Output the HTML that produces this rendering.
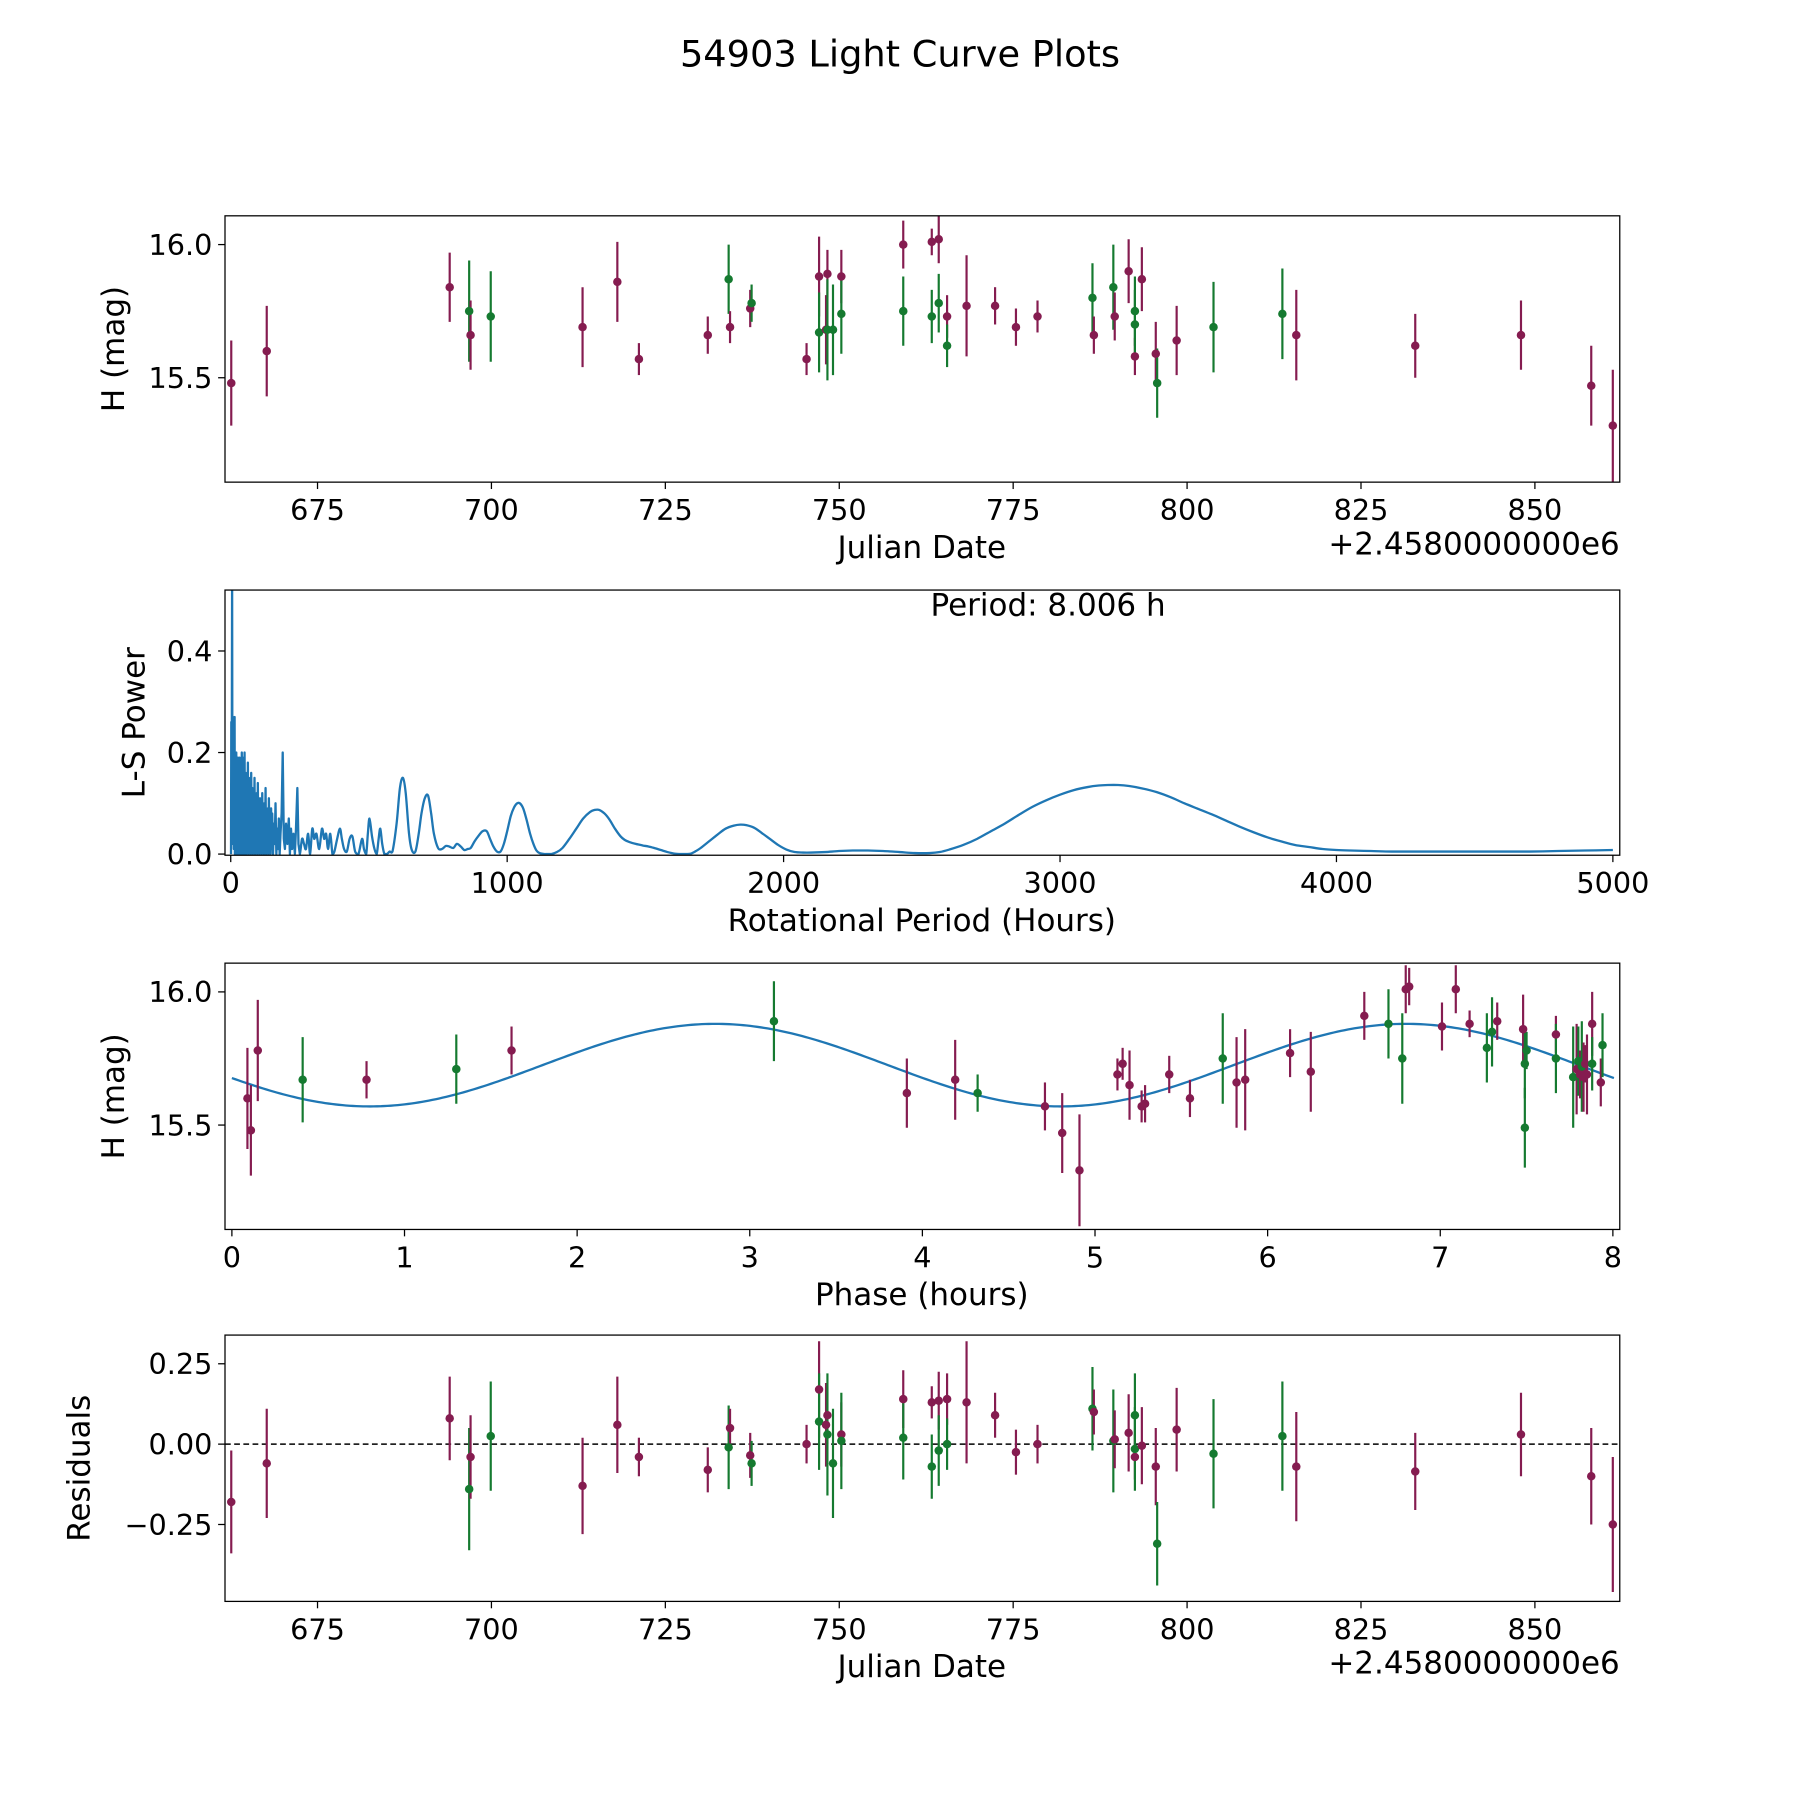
<!DOCTYPE html>
<html><head><meta charset="utf-8"><style>
html,body{margin:0;padding:0;background:#fff}
svg{display:block}
text{font-family:"DejaVu Sans","Liberation Sans",sans-serif;fill:#000}
</style></head><body>
<svg id="fig" xmlns="http://www.w3.org/2000/svg" width="1800" height="1800" viewBox="0 0 1568 1568">
<text x="784" y="58" font-size="32" text-anchor="middle">54903 Light Curve Plots</text>
</svg>
<script>
// ---- Data: panel 1 (magnitude vs Julian date, offset 2458000) ----
const lcJD   = [662.6,667.7,694.0,696.8,697.0,699.9,713.1,718.1,721.2,731.1,734.1,734.3,737.2,737.4,745.3,747.1,747.1,748.1,748.3,748.3,749.1,750.3,750.3,759.2,759.2,763.3,763.3,764.3,764.3,765.5,765.5,768.3,772.4,775.4,778.5,786.4,786.6,789.4,789.6,791.6,792.5,792.5,792.5,793.5,795.5,795.7,798.5,803.8,813.7,815.7,832.8,848.0,858.1,861.2];
const lcMag  = [15.48,15.60,15.84,15.75,15.66,15.73,15.69,15.86,15.57,15.66,15.87,15.69,15.76,15.78,15.57,15.88,15.67,15.68,15.89,15.68,15.68,15.88,15.74,16.00,15.75,16.01,15.73,16.02,15.78,15.73,15.62,15.77,15.77,15.69,15.73,15.80,15.66,15.84,15.73,15.90,15.75,15.58,15.70,15.87,15.59,15.48,15.64,15.69,15.74,15.66,15.62,15.66,15.47,15.32];
const lcErr  = [0.16,0.17,0.13,0.19,0.13,0.17,0.15,0.15,0.06,0.07,0.13,0.06,0.07,0.07,0.06,0.15,0.15,0.13,0.09,0.19,0.17,0.10,0.15,0.09,0.13,0.05,0.10,0.09,0.11,0.08,0.08,0.19,0.07,0.07,0.06,0.13,0.07,0.16,0.09,0.12,0.13,0.07,0.13,0.12,0.12,0.13,0.13,0.17,0.17,0.17,0.12,0.13,0.15,0.21];
const lcBand = ["m","m","m","g","m","g","m","m","m","m","g","m","m","g","m","m","g","m","m","g","g","m","g","m","g","m","g","m","g","m","g","m","m","m","m","g","m","g","m","m","g","m","g","m","m","g","m","g","g","m","m","m","m","m"];
// ---- Residuals (same points) ----
const resVal = [-0.18,-0.06,0.08,-0.14,-0.04,0.025,-0.13,0.06,-0.04,-0.08,-0.01,0.05,-0.035,-0.06,0.0,0.17,0.07,0.06,0.09,0.03,-0.06,0.03,0.01,0.14,0.02,0.13,-0.07,0.135,-0.02,0.14,0.0,0.13,0.09,-0.025,0.0,0.11,0.10,0.01,0.015,0.035,0.09,-0.04,-0.015,-0.005,-0.07,-0.31,0.045,-0.03,0.025,-0.07,-0.085,0.03,-0.10,-0.25];
// ---- Phase panel ----
const phX    = [0.09,0.11,0.15,0.41,0.78,1.30,1.62,3.14,3.91,4.19,4.32,4.71,4.81,4.91,5.13,5.16,5.20,5.27,5.29,5.43,5.55,5.74,5.82,5.87,6.13,6.25,6.56,6.70,6.78,6.80,6.82,7.01,7.09,7.17,7.27,7.30,7.33,7.48,7.49,7.49,7.50,7.67,7.67,7.77,7.79,7.80,7.81,7.82,7.83,7.84,7.85,7.88,7.88,7.93,7.94];
const phMag  = [15.60,15.48,15.78,15.67,15.67,15.71,15.78,15.89,15.62,15.67,15.62,15.57,15.47,15.33,15.69,15.73,15.65,15.57,15.58,15.69,15.60,15.75,15.66,15.67,15.77,15.70,15.91,15.88,15.75,16.01,16.02,15.87,16.01,15.88,15.79,15.85,15.89,15.86,15.73,15.49,15.78,15.84,15.75,15.68,15.71,15.74,15.69,15.72,15.68,15.73,15.69,15.88,15.73,15.66,15.80];
const phErr  = [0.19,0.17,0.19,0.16,0.07,0.13,0.09,0.15,0.13,0.15,0.07,0.09,0.15,0.21,0.06,0.06,0.13,0.06,0.07,0.07,0.07,0.17,0.17,0.19,0.09,0.15,0.09,0.13,0.17,0.09,0.07,0.09,0.09,0.05,0.13,0.13,0.07,0.13,0.13,0.15,0.07,0.07,0.13,0.19,0.17,0.13,0.09,0.17,0.13,0.07,0.15,0.12,0.10,0.09,0.12];
const phBand = ["m","m","m","g","m","g","m","g","m","m","g","m","m","m","m","m","m","m","m","m","m","g","m","m","m","m","m","g","g","m","m","m","m","m","g","g","m","m","g","g","g","m","g","g","m","g","m","g","m","m","m","m","g","m","g"];
const fitMean = 15.725, fitAmp = 0.155, fitHalfPeriod = 4.003, fitPeak = 2.8;
// ---- Periodogram ----
const lsPeriod = [1,2,3,4,5,6,7,8,9,10,11,12,13,14,15,16,17,18,19,20,21,22,23,24,25,26,27,28,29,30,31,32,33,34,35,36,37,38,39,40,41,42,43,44,45,46,47,48,49,50,
52,54,56,58,60,62,64,66,68,70,72,74,76,78,80,82,84,86,88,90,92,94,96,98,100,102,104,106,108,110,112,114,116,118,120,122,124,126,128,130,132,134,136,138,140,142,144,146,148,150,
153,156,159,162,165,168,171,174,177,180,184,188,192,196,200,205,210,214,218,222,227,232,236,241,245,250,258,265,272,280,287,295,302,310,320,330,338,345,352,360,368,375,385,395,402,410,420,430,440,450,462,475,482,490,496,502,511,520,528,535,541,548,556,565,575,585,600,612,623,633,645,655,668,680,690,702,714,725,735,750,764,778,790,805,818,832,845,857,868,882,895,911,926,938,950,963,976,988,1000,1013,1025,1036,1046,1058,1070,1083,1095,1106,1117,1138,1159,1180,1200,1225,1250,1275,1300,1317,1333,1352,1370,1390,1410,1425,1441,1465,1490,1511,1532,1556,1580,1605,1630,1648,1665,1683,1700,1730,1760,1790,1820,1843,1865,1893,1920,1950,1980,2010,2040,2070,2100,2150,2200,2250,2305,2360,2420,2475,2529,2565,2600,2650,2700,2750,2800,2850,2900,2950,3000,3050,3100,3140,3173,3210,3250,3300,3350,3400,3450,3500,3550,3600,3650,3700,3750,3800,3850,3900,3950,4000,4050,4125,4200,4300,4400,4500,4600,4700,4800,4900,5000];
const lsPower  = [0.0,0.26,0.05,0.25,0.55,0.12,0.02,0.27,0.04,0.26,
0.01,0.2,0.05,0.27,0.0,0.19,0.03,0.18,0.0,0.2,
0.02,0.17,0.01,0.16,0.0,0.19,0.03,0.15,0.0,0.17,
0.02,0.19,0.0,0.14,0.01,0.18,0.02,0.12,0.0,0.2,
0.01,0.15,0.03,0.18,0.0,0.19,0.02,0.14,0.0,0.2,
0.01,0.16,0.0,0.12,0.02,0.18,0.0,0.15,0.01,0.1,
0.0,0.16,0.02,0.13,0.0,0.1,0.01,0.15,0.0,0.08,
0.02,0.12,0.0,0.14,0.01,0.07,0.0,0.11,0.02,0.09,
0.0,0.12,0.01,0.06,0.0,0.1,0.02,0.13,0.0,0.07,
0.01,0.09,0.0,0.11,0.02,0.05,0.0,0.09,0.01,0.08,
0.0,0.06,0.02,0.1,0.0,0.05,0.01,0.07,0.0,0.04,0.08,0.2,0.03,0.01,0.06,0.02,0.07,0.0,0.05,0.01,0.04,0.0,0.05,0.13,0.02,0.0,0.03,0.02,0.01,0.04,0.0,0.05,0.03,0.04,0.01,0.05,0.03,0.04,0.01,0.04,0.0,0.005,0.03,0.05,0.03,0.01,0.005,0.03,0.035,0.005,0.0,0.03,0.01,0.0,0.04,0.07,0.035,0.01,0.0,0.03,0.05,0.02,0.0,0.0,0.005,0.005,0.06,0.13,0.15,0.12,0.04,0.008,0.005,0.04,0.08,0.11,0.115,0.08,0.04,0.012,0.01,0.016,0.015,0.012,0.02,0.015,0.008,0.01,0.012,0.025,0.035,0.045,0.045,0.03,0.015,0.005,0.005,0.02,0.045,0.075,0.092,0.1,0.1,0.09,0.068,0.04,0.02,0.007,0.002,0.0,0.0,0.004,0.012,0.03,0.05,0.07,0.083,0.087,0.087,0.08,0.068,0.05,0.035,0.028,0.024,0.02,0.017,0.015,0.012,0.008,0.004,0.001,0.0,0.0,0.001,0.006,0.012,0.025,0.038,0.05,0.056,0.058,0.057,0.052,0.042,0.03,0.018,0.009,0.004,0.003,0.003,0.004,0.006,0.007,0.007,0.006,0.004,0.002,0.002,0.004,0.009,0.018,0.03,0.045,0.06,0.077,0.093,0.106,0.117,0.126,0.132,0.135,0.136,0.136,0.134,0.129,0.122,0.112,0.1,0.089,0.078,0.066,0.054,0.043,0.033,0.025,0.018,0.014,0.01,0.008,0.007,0.006,0.005,0.005,0.005,0.005,0.005,0.005,0.006,0.007,0.008];
const jdTicks = [675,700,725,750,775,800,825,850];
const lsTicks = [0,1000,2000,3000,4000,5000];
const phTicks = [0,1,2,3,4,5,6,7,8];
const magTicks = [15.5,16.0];
const lsYTicks = [0.0,0.2,0.4];
const resTicks = [-0.25,0.0,0.25];

const NS = "http://www.w3.org/2000/svg";
const svg = document.getElementById("fig");
const COL = {m:"#851c50", g:"#157a30"};
function mk(tag, attrs, parent){
  const e = document.createElementNS(NS, tag);
  for (const k in attrs) e.setAttribute(k, attrs[k]);
  (parent||svg).appendChild(e);
  return e;
}
const L = 196, R = 1411;
function scale(d0,d1,r0,r1){ return v => r0 + (v-d0)/(d1-d0)*(r1-r0); }

function panel(id, top, bot, xs, ys, xticks, xfmt, yticks, yfmt, xlabel, ylabel, ylabelX, offset){
  const g = mk("g", {});
  
  
  const cp = mk("clipPath", {id: id+"-clip"}, g);
  mk("rect", {x:L, y:top, width:R-L, height:bot-top}, cp);
  const data = mk("g", {"clip-path":"url(#"+id+"-clip)"}, g);
  
  
  const frame = mk("rect", {x:L, y:top, width:R-L, height:bot-top, fill:"none", stroke:"#000", "stroke-width":1.1}, g);
  
  
  xticks.forEach(t => {
    const x = xs(t);
    const tk = mk("line", {x1:x, x2:x, y1:bot, y2:bot+6, stroke:"#000", "stroke-width":1.1}, g);
    
    
    const tl = mk("text", {x:x, y:bot+33, "font-size":25, "text-anchor":"middle"}, g);
    tl.textContent = xfmt(t);
    
    
  });
  yticks.forEach(t => {
    const y = ys(t);
    const tk = mk("line", {x1:L-6, x2:L, y1:y, y2:y, stroke:"#000", "stroke-width":1.1}, g);
    
    
    const tl = mk("text", {x:L-11, y:y+9, "font-size":25, "text-anchor":"end"}, g);
    tl.textContent = yfmt(t);
    
    
  });
  const xl = mk("text", {x:803, y:bot+66, "font-size":27, "text-anchor":"middle"}, g);
  xl.textContent = xlabel;
  
  
  const yc = (top+bot)/2;
  const yl = mk("text", {x:ylabelX, y:yc, "font-size":27, "text-anchor":"middle", transform:"rotate(-90 "+ylabelX+" "+yc+")"}, g);
  yl.textContent = ylabel;
  
  
  if (offset){
    const ot = mk("text", {x:R, y:bot+63, "font-size":27, "text-anchor":"end"}, g);
    ot.textContent = offset;
    
    
  }
  return data;
}
function errPoints(layer, xs, ys, X, Y, E, B, prefix){
  for (let i=0;i<X.length;i++){
    const x = xs(X[i]), c = COL[B[i]];
    const bar = mk("line", {x1:x, x2:x, y1:ys(Y[i]-E[i]), y2:ys(Y[i]+E[i]), stroke:c, "stroke-width":1.9}, layer);
    
    
  }
  for (let i=0;i<X.length;i++){
    const pt = mk("circle", {cx:xs(X[i]), cy:ys(Y[i]), r:3.7, fill:COL[B[i]]}, layer);
    
    
  }
}
const magFmt = t => t.toFixed(1);
const jdX = scale(661.7, 862.2, L, R);

// Panel 1
const y1 = scale(15.108, 16.108, 420, 188);
const p1 = panel("lightcurve", 188, 420, jdX, y1, jdTicks, t=>String(t), magTicks, magFmt, "Julian Date", "H (mag)", 108, "+2.4580000000e6");
errPoints(p1, jdX, y1, lcJD, lcMag, lcErr, lcBand, "lightcurve");

// Panel 2
const x2 = scale(0, 5000, 201, 1405);
const y2 = scale(0, 0.52, 744, 514);
const p2 = panel("periodogram", 514, 745, x2, y2, lsTicks, t=>String(t), lsYTicks, t=>t.toFixed(1), "Rotational Period (Hours)", "L-S Power", 126, null);
const nLS = Math.min(lsPeriod.length, lsPower.length);
const pts = [];
for (let i=0;i<nLS;i++) pts.push([x2(lsPeriod[i]), y2(lsPower[i])]);
let d = "M" + pts[0][0].toFixed(2) + "," + pts[0][1].toFixed(2);
for (let i=0;i<pts.length-1;i++){
  const p0 = pts[Math.max(0,i-1)], p1_ = pts[i], p2_ = pts[i+1], p3 = pts[Math.min(pts.length-1,i+2)];
  if (lsPeriod[i] < 250){ d += "L" + p2_[0].toFixed(2) + "," + p2_[1].toFixed(2); continue; }
  const c1x = p1_[0] + (p2_[0]-p0[0])/6, c1y = Math.min(744, p1_[1] + (p2_[1]-p0[1])/6);
  const c2x = p2_[0] - (p3[0]-p1_[0])/6, c2y = Math.min(744, p2_[1] - (p3[1]-p1_[1])/6);
  d += "C" + c1x.toFixed(2) + "," + c1y.toFixed(2) + " " + c2x.toFixed(2) + "," + c2y.toFixed(2) + " " + p2_[0].toFixed(2) + "," + p2_[1].toFixed(2);
}
const ls = mk("path", {d:d, fill:"none", stroke:"#1f77b4", "stroke-width":2, "stroke-linejoin":"round"}, p2);


const pt = mk("text", {x:913, y:536, "font-size":27, "text-anchor":"middle"}, svg);
pt.textContent = "Period: 8.006 h";



// Panel 3
const x3 = scale(0, 8, 202, 1405);
const y3 = scale(15.108, 16.108, 1071, 839);
const p3 = panel("phase", 839, 1071, x3, y3, phTicks, t=>String(t), magTicks, magFmt, "Phase (hours)", "H (mag)", 108, null);
let fd = "";
for (let k=0;k<=400;k++){
  const ph = 8.006*k/400;
  const m = fitMean + fitAmp*Math.cos(2*Math.PI*(ph-fitPeak)/fitHalfPeriod);
  fd += (k?"L":"M") + x3(ph).toFixed(2) + "," + y3(m).toFixed(2);
}
const fit = mk("path", {d:fd, fill:"none", stroke:"#1f77b4", "stroke-width":2}, p3);


errPoints(p3, x3, y3, phX, phMag, phErr, phBand, "phase");

// Panel 4
const y4 = scale(0, 0.25, 1258, 1188);
const p4 = panel("residuals", 1163, 1395, jdX, y4, jdTicks, t=>String(t), resTicks, t=>(t<0?"\u2212":"")+Math.abs(t).toFixed(2), "Julian Date", "Residuals", 78, "+2.4580000000e6");
const zl = mk("line", {x1:L, x2:R, y1:y4(0), y2:y4(0), stroke:"#000", "stroke-width":1.4, "stroke-dasharray":"5,3"}, p4);


errPoints(p4, jdX, y4, lcJD, resVal, lcErr, lcBand, "residual");
</script>
</body></html>
